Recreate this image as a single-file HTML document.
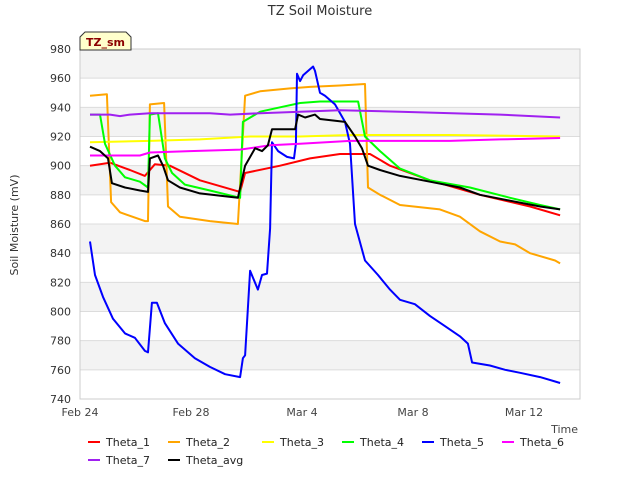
<!DOCTYPE html>
<html><head><meta charset="utf-8"><style>
body{margin:0;background:#fff;font-family:"Liberation Sans","DejaVu Sans",sans-serif}
svg text{font-family:"DejaVu Sans","Liberation Sans",sans-serif}
</style></head><body>
<svg id="chart" width="640" height="480" viewBox="0 0 640 480" xmlns="http://www.w3.org/2000/svg">
<g id="bands"></g><g id="grid"></g><g id="series"></g><g id="axes"></g><g id="legend"></g>
</svg>
<script>
const yTicks=[740,760,780,800,820,840,860,880,900,920,940,960,980];
const xTickDays=[0,4,8,12,16];
const xTickLabels=["Feb 24","Feb 28","Mar 4","Mar 8","Mar 12"];
const names=["Theta_1","Theta_2","Theta_3","Theta_4","Theta_5","Theta_6","Theta_7","Theta_avg"];
const colors=["#ff0000","#ffa500","#ffff00","#00ff00","#0000ff","#ff00ff","#a020f0","#000000"];
const t1d=[0.36,1.08,1.8,2.34,2.7,3.24,4.32,5.77,5.95,7.21,8.29,9.37,10.45,11.17,12.61,14.41,16.22,17.3];
const t1v=[900,902,897,893,901,900,890,882,895,900,905,908,908,900,890,880,872,866];
const t2d=[0.36,0.97,1.12,1.44,2.34,2.45,2.52,3.03,3.17,3.6,4.68,5.69,5.95,6.49,7.57,8.29,9.37,10.27,10.38,10.81,11.53,12.97,13.69,14.41,15.14,15.68,16.22,17.12,17.3];
const t2v=[948,949,875,868,862,862,942,943,872,865,862,860,948,951,953,954,955,956,885,880,873,870,865,855,848,846,840,835,833];
const t3d=[0.36,2.52,4.32,6.13,7.93,9.73,13.33,17.3];
const t3v=[916,917,918,920,920,921,921,920];
const t4d=[0.36,0.72,0.9,1.26,1.62,2.16,2.45,2.52,2.81,3.06,3.32,3.78,4.68,5.77,5.87,6.49,7.21,7.93,8.65,10.02,10.27,10.81,11.53,12.61,14.05,15.5,16.58,17.3];
const t4v=[935,935,915,900,892,889,885,935,936,905,895,887,883,878,930,937,940,943,944,944,920,910,898,890,885,878,873,870];
const t5d=[0.36,0.54,0.83,1.19,1.62,1.98,2.34,2.45,2.59,2.77,3.06,3.53,4.14,4.68,5.23,5.77,5.87,5.95,6.13,6.41,6.56,6.74,6.85,6.92,7.14,7.46,7.71,7.78,7.82,7.93,8.04,8.4,8.47,8.65,8.83,9.19,9.55,9.73,9.91,10.27,10.74,11.17,11.53,12.07,12.61,13.15,13.69,13.98,14.13,14.77,15.32,15.86,16.58,17.12,17.3];
const t5v=[848,825,810,795,785,782,773,772,806,806,792,778,768,762,757,755,768,770,828,815,825,826,857,916,910,906,905,915,963,958,962,968,965,950,948,942,930,915,860,835,825,815,808,805,797,790,783,778,765,763,760,758,755,752,751];
const t6d=[0.36,2.16,2.52,3.96,5.77,6.85,7.93,9.73,13.33,15.14,17.3];
const t6v=[907,907,909,910,911,914,915,917,917,918,919];
const t7d=[0.36,1.08,1.44,1.8,2.52,4.68,5.41,6.49,7.93,9.37,11.53,15.14,17.3];
const t7v=[935,935,934,935,936,936,935,936,937,938,937,935,933];
const tad=[0.36,0.72,1.01,1.15,1.62,2.16,2.45,2.52,2.81,2.99,3.17,3.6,4.32,5.69,5.95,6.31,6.56,6.77,6.92,7.75,7.86,8.11,8.47,8.65,9.55,9.91,10.16,10.38,10.81,11.53,12.61,13.69,14.41,15.5,16.58,17.3];
const tav=[913,910,905,888,885,883,882,905,907,900,890,885,881,878,900,912,910,914,925,925,935,933,935,932,930,920,912,900,897,893,889,885,880,876,872,870];
const seriesDays=[t1d,t2d,t3d,t4d,t5d,t6d,t7d,tad];
const seriesVals=[t1v,t2v,t3v,t4v,t5v,t6v,t7v,tav];

const NS="http://www.w3.org/2000/svg";
const L=80,R=580,T=49,B=399,ymin=740,ymax=980,dmax=500/27.75;
const xS=d=>L+d/dmax*(R-L);
const yS=v=>B-(v-ymin)/(ymax-ymin)*(B-T);
function mk(tag,attrs,parent,txt){const e=document.createElementNS(NS,tag);for(const k in attrs)e.setAttribute(k,attrs[k]);if(txt!==undefined)e.textContent=txt;document.getElementById(parent).appendChild(e);return e;}
// bands
for(let i=0;i<yTicks.length-1;i++){if(i%2===1){const r=mk('rect',{x:L,y:yS(yTicks[i+1]),width:R-L,height:yS(yTicks[i])-yS(yTicks[i+1]),fill:'#f3f3f3'},'bands');

}}
yTicks.forEach(v=>{const l=mk('line',{x1:L,x2:R,y1:yS(v),y2:yS(v),stroke:'#dcdcdc','stroke-width':1},'grid');


const t=mk('text',{x:L-9,y:yS(v)+4,'text-anchor':'end','font-size':11,fill:'#333'},'axes',v);

});
xTickDays.forEach((d,i)=>{const t=mk('text',{x:xS(d),y:416,'text-anchor':'middle','font-size':11,fill:'#444'},'axes',xTickLabels[i]);

});
const fr=mk('rect',{x:L,y:T,width:R-L,height:B-T,fill:'none',stroke:'#cccccc'},'axes');


seriesDays.forEach((ds,i)=>{const pts=ds.map((d,j)=>xS(d).toFixed(1)+','+yS(seriesVals[i][j]).toFixed(1)).join(' ');
const p=mk('polyline',{points:pts,fill:'none',stroke:colors[i],'stroke-width':2,'stroke-linejoin':'round'},'series');

});
const tt=mk('text',{x:320,y:15,'text-anchor':'middle','font-size':13,fill:'#333'},'axes','TZ Soil Moisture');


const yt=mk('text',{x:18,y:225,'text-anchor':'middle','font-size':11,fill:'#333',transform:'rotate(-90 18 225)'},'axes','Soil Moisture (mV)');


const xt=mk('text',{x:578,y:433,'text-anchor':'end','font-size':11,fill:'#444'},'axes','Time');


const bx=mk('path',{d:'M80,50 L80,37 L85,32 L126,32 L131,37 L131,50 Z',fill:'#ffffcc',stroke:'#333','stroke-width':1},'axes');


const bt=mk('text',{x:105.5,y:46,'text-anchor':'middle','font-size':11,'font-weight':'bold',fill:'#8b0000'},'axes','TZ_sm');


const lx=[88,168,262,342,422,502,88,168],ly=[442,442,442,442,442,442,460,460];
names.forEach((n,i)=>{const l=mk('line',{x1:lx[i],x2:lx[i]+12,y1:ly[i],y2:ly[i],stroke:colors[i],'stroke-width':2},'legend');


const t=mk('text',{x:lx[i]+18,y:ly[i]+4,'font-size':11,fill:'#222'},'legend',n);

});
</script>
</body></html>
